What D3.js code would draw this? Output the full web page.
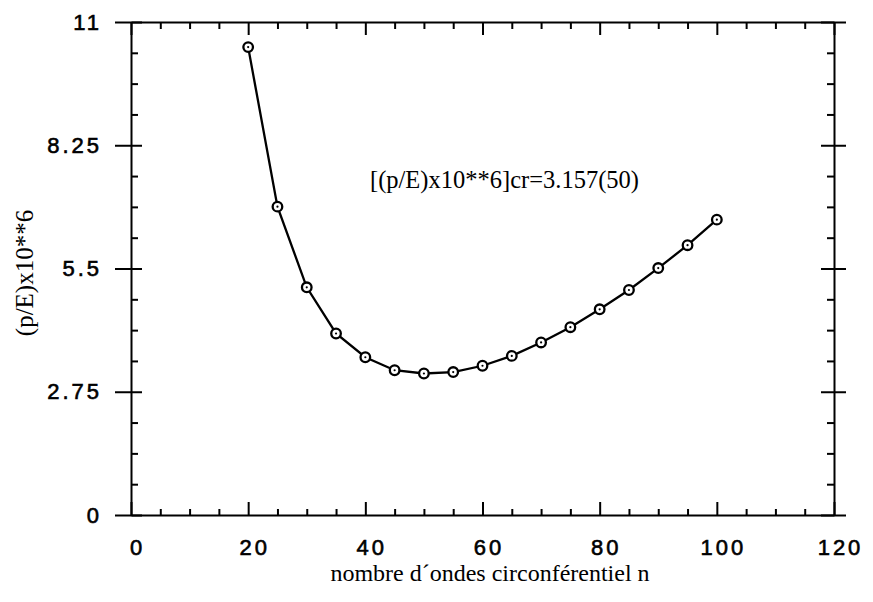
<!DOCTYPE html>
<html><head><meta charset="utf-8">
<script src="https://cdn.jsdelivr.net/npm/d3@7"></script>
<style>
body{margin:0;background:#fff;}
.tick text{font-family:"Liberation Sans",Arial,sans-serif;}
.serif{font-family:"Liberation Serif","Times New Roman",serif;}
</style></head>
<body><svg id="c" width="873" height="602"></svg>
<script>
const nValues = [20,25,30,35,40,45,50,55,60,65,70,75,80,85,90,95,100];
const pE = [10.44,6.88,5.08,4.05,3.52,3.23,3.157,3.19,3.33,3.55,3.85,4.19,4.59,5.02,5.51,6.02,6.59];
const xMajor = [0,20,40,60,80,100,120];
const xMinor = [5,10,15,25,30,35,45,50,55,65,70,75,85,90,95,105,110,115];
const yMajor = [0,2.75,5.5,8.25,11];
const yMinor = [0.6875,1.375,2.0625,3.4375,4.125,4.8125,6.1875,6.875,7.5625,8.9375,9.625,10.3125];
const yLabels = ["0","2.75","5.5","8.25","11"];
const xTitle = "nombre d\u00B4ondes circonf\u00E9rentiel n";
const yTitle = "(p/E)x10**6";
const note = "[(p/E)x10**6]cr=3.157(50)";

const svg = d3.select("#c");
const L=131,R=834,T=22,B=515;
const x = d3.scaleLinear().domain([0,120]).range([L,R]);
const y = d3.scaleLinear().domain([0,11]).range([B,T]);
const sw = 2;

function styleAx(g){
  g.selectAll("path.domain").attr("stroke-width",sw);
  g.selectAll(".tick line").attr("stroke-width",sw);
}
function styleLab(g){
  g.selectAll("text").attr("font-size",22).attr("letter-spacing","3px")
   .attr("stroke","#000").attr("stroke-width",0.6);
}
// bottom
svg.append("g").attr("transform",`translate(0,${B})`)
  .call(d3.axisBottom(x).tickValues(xMajor).tickSize(-13).tickSizeOuter(0).tickPadding(24).tickFormat(d=>d))
  .call(styleAx).call(styleLab)
  .call(g=>g.selectAll("text").attr("dx","6"));
svg.append("g").attr("transform",`translate(0,${B})`)
  .call(d3.axisBottom(x).tickValues(xMinor).tickSize(-6).tickFormat(""))
  .call(styleAx).call(g=>g.select(".domain").remove());
// top
svg.append("g").attr("transform",`translate(0,${T})`)
  .call(d3.axisTop(x).tickValues(xMajor).tickSize(-13).tickSizeOuter(0).tickFormat(""))
  .call(styleAx);
svg.append("g").attr("transform",`translate(0,${T})`)
  .call(d3.axisTop(x).tickValues(xMinor).tickSize(-7).tickFormat(""))
  .call(styleAx).call(g=>g.select(".domain").remove());
// left
svg.append("g").attr("transform",`translate(${L},0)`)
  .call(d3.axisLeft(y).tickValues(yMajor).tickSize(16).tickSizeOuter(0).tickPadding(13).tickFormat((d,i)=>yLabels[i]))
  .call(styleAx).call(styleLab);
svg.append("g").attr("transform",`translate(${L},0)`)
  .call(d3.axisLeft(y).tickValues(yMajor).tickSize(-11).tickFormat(""))
  .call(styleAx).call(g=>g.select(".domain").remove());
svg.append("g").attr("transform",`translate(${L},0)`)
  .call(d3.axisLeft(y).tickValues(yMinor).tickSize(-7).tickFormat(""))
  .call(styleAx).call(g=>g.select(".domain").remove());
// right
svg.append("g").attr("transform",`translate(${R},0)`)
  .call(d3.axisRight(y).tickValues(yMajor).tickSize(12).tickSizeOuter(0).tickFormat(""))
  .call(styleAx);
svg.append("g").attr("transform",`translate(${R},0)`)
  .call(d3.axisRight(y).tickValues(yMajor).tickSize(-13).tickFormat(""))
  .call(styleAx).call(g=>g.select(".domain").remove());
svg.append("g").attr("transform",`translate(${R},0)`)
  .call(d3.axisRight(y).tickValues(yMinor).tickSize(-7).tickFormat(""))
  .call(styleAx).call(g=>g.select(".domain").remove());

// line
const pts = nValues.map((n,i)=>[n,pE[i]]);
svg.append("path").datum(pts)
  .attr("fill","none").attr("stroke","#000").attr("stroke-width",2.3)
  .attr("d",d3.line().x(d=>x(d[0])).y(d=>y(d[1])));
const mk = svg.append("g").selectAll("g").data(pts).join("g")
  .attr("transform",d=>`translate(${x(d[0])},${y(d[1])})`);
mk.append("circle").attr("r",4.8).attr("fill","#fff").attr("stroke","#000").attr("stroke-width",2.3);
mk.append("circle").attr("r",1.1).attr("fill","#000");

// texts
svg.append("text").attr("class","serif").attr("x",370).attr("y",188).attr("font-size",24.5).text(note);
svg.append("text").attr("class","serif").attr("transform","translate(33,273) rotate(-90)").attr("text-anchor","middle")
  .attr("font-size",25).text(yTitle);
svg.append("text").attr("class","serif").attr("x",490).attr("y",581).attr("text-anchor","middle")
  .attr("font-size",24).text(xTitle);
</script></body></html>
